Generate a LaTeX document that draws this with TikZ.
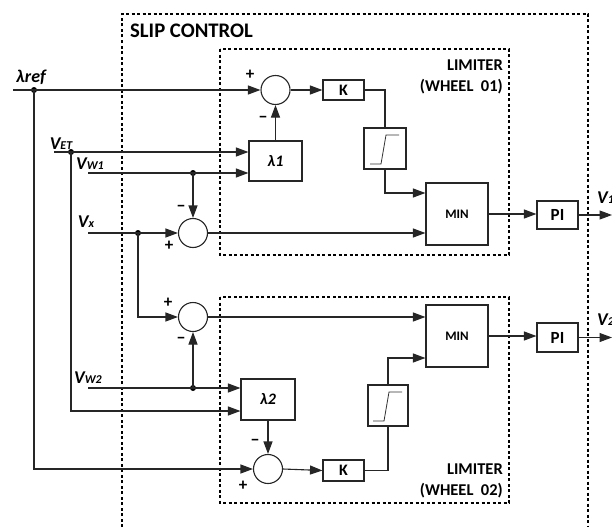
\documentclass[tikz,border=0pt]{standalone}
\usepackage{fontspec}
\setmainfont{Carlito}
\usetikzlibrary{arrows.meta,calc}
\tikzset{
  wire/.style={draw=black!85, line width=1.1pt},
  arr/.style={wire, -{Triangle[length=12.5pt,width=9pt]}},
  blk/.style={draw=black!85, line width=1.1pt, fill=white, inner sep=0pt},
  sumc/.style={circle, draw=black!85, line width=1.1pt, fill=white, minimum size=29pt, inner sep=0pt},
  dot/.style={circle, fill=black, minimum size=6pt, inner sep=0pt},
  dotbox/.style={draw=black, line width=2pt, dash pattern=on 3pt off 2.5pt},
  sgn/.style={font=\bfseries\fontsize{17}{17}\selectfont, inner sep=0pt},
  lab/.style={font=\bfseries\itshape\fontsize{18}{18}\selectfont, inner sep=0pt},
  satline/.style={draw=black!80, line width=0.8pt}
}
\newcommand{\sbs}[1]{{\fontsize{12}{12}\selectfont #1}}
\begin{document}
\begin{tikzpicture}[x=1pt,y=-1pt]
\useasboundingbox (0,0) rectangle (612,527);
% frames
\draw[dotbox] (122,527) -- (122,14) -- (588,14) -- (588,527);
\draw[dotbox] (220,49) rectangle (509,255);
\draw[dotbox] (220,297) rectangle (509,503);
\node[anchor=west, inner sep=0pt, font=\bfseries\fontsize{20.7}{21}\selectfont] (slip) at (130,31) {SLIP CONTROL};
\node[anchor=east, align=right, inner sep=0pt, font=\bfseries\fontsize{16.5}{21}\selectfont] (lim1) at (503,77) {LIMITER\\(WHEEL\ \ 01)};
\node[anchor=east, align=right, inner sep=0pt, font=\bfseries\fontsize{16.5}{21}\selectfont] (lim2) at (503,481) {LIMITER\\(WHEEL\ \ 02)};

% blocks
\node[sumc] (sum1) at (275.5,90) {};
\node[blk, minimum width=41pt, minimum height=20pt, font=\bfseries\fontsize{16}{16}\selectfont] (K1) at (343.5,90) {K};
\node[blk, minimum width=53pt, minimum height=40pt, font=\bfseries\itshape\fontsize{16}{16}\selectfont] (lam1) at (275.5,161) {λ1};
\node[blk, minimum width=42pt, minimum height=41pt] (sat1) at (385,148.5) {};
\node[blk, minimum width=62pt, minimum height=62pt, font=\bfseries\fontsize{13}{13}\selectfont] (min1) at (457,214) {MIN};
\node[blk, minimum width=41pt, minimum height=28pt, font=\bfseries\fontsize{17}{17}\selectfont] (pi1) at (557.5,215) {PI};
\node[sumc] (sum3) at (193,233) {};
\node[sumc] (sum4) at (193,317) {};
\node[blk, minimum width=62pt, minimum height=62pt, font=\bfseries\fontsize{13}{13}\selectfont] (min2) at (457,336) {MIN};
\node[blk, minimum width=41pt, minimum height=29pt, font=\bfseries\fontsize{17}{17}\selectfont] (pi2) at (557.5,337.5) {PI};
\node[blk, minimum width=40pt, minimum height=41pt] (sat2) at (388,405.5) {};
\node[blk, minimum width=41pt, minimum height=21pt, font=\bfseries\fontsize{16}{16}\selectfont] (K2) at (343.5,470.5) {K};
\node[blk, minimum width=54pt, minimum height=41pt, font=\bfseries\itshape\fontsize{16}{16}\selectfont] (lam2) at (268,399.5) {λ2};
\node[sumc] (sum5) at (268,469) {};

% saturation symbols
\draw[satline] ($(sat1)+(-15,15.5)$) -- ($(sat1)+(-4,15.5)$) -- ($(sat1)+(1,-13.5)$) -- ($(sat1)+(14,-13.5)$);
\draw[satline] ($(sat2)+(-15,15.5)$) -- ($(sat2)+(-4,15.5)$) -- ($(sat2)+(1,-13.5)$) -- ($(sat2)+(14,-13.5)$);

% inputs
\coordinate (lrs) at (13,90);
\coordinate (vets) at (54,152);
\coordinate (vw1s) at (88,173);
\coordinate (vxs) at (88,233);
\coordinate (vw2s) at (88,388);
\coordinate (out1) at (612,215);
\coordinate (out2) at (612,337.5);
\node[dot] (dref) at (34,90) {};
\node[dot] (dvet) at (71,152) {};
\node[dot] (dvw1) at (193,173) {};
\node[dot] (dvx) at (138,233) {};
\node[dot] (dvw2) at (193,388) {};

\node[lab] (tlref) at (31,77) {λref};
\node[lab] (tvet) at (61,144) {V\sbs{ET}};
\node[lab] (tvw1) at (90,164) {V\sbs{W1}};
\node[lab] (tvx) at (86,222) {V\sbs{x}};
\node[lab] (tvw2) at (88,378) {V\sbs{W2}};
\node[lab, anchor=west] (tv1) at (597,198) {V\sbs{1}};
\node[lab, anchor=west] (tv2) at (597,320) {V\sbs{2}};

% connectors
\draw[arr] (lrs) -- (sum1.west);
\draw[arr] (dref.center) |- (sum5.west);
\draw[arr] (vets) -- (vets -| lam1.west);
\draw[arr] (dvet.center) |- ([yshift=-11.5pt]lam2.west);
\draw[arr] (vw1s) -- (vw1s -| lam1.west);
\draw[arr] (dvw1.center) -- (sum3.north);
\draw[arr] (vxs) -- (sum3.west);
\draw[arr] (dvx.center) |- (sum4.west);
\draw[arr] (vw2s) -- (vw2s -| lam2.west);
\draw[arr] (dvw2.center) -- (sum4.south);
\draw[arr] (lam1.north) -- (sum1.south);
\draw[arr] (lam2.south) -- (sum5.north);
\draw[arr] (sum1.east) -- (K1.west);
\draw[arr] (sum5.east) -- (K2.west);
\draw[wire] (K1.east) -| (sat1.north);
\draw[wire] (K2.east) -| (sat2.south);
\draw[arr] (sat1.south) |- ([yshift=21pt]min1.west);
\draw[arr] (sat2.north) |- ([yshift=-22pt]min2.west);
\draw[arr] (sum3.east) -- (sum3.east -| min1.west);
\draw[arr] (sum4.east) -- (sum4.east -| min2.west);
\draw[arr] (min1.east) -- (min1.east -| pi1.west);
\draw[arr] (min2.east) -- (min2.east -| pi2.west);
\draw[arr] (pi1.east) -- (out1);
\draw[arr] (pi2.east) -- (out2);

% signs
\node[sgn] (s1p) at (250,75) {+};
\node[sgn] (s1m) at (263,119) {−};
\node[sgn] (s3m) at (181,208) {−};
\node[sgn] (s3p) at (169,246) {+};
\node[sgn] (s4p) at (168,303) {+};
\node[sgn] (s4m) at (181,340) {−};
\node[sgn] (s5m) at (255,442) {−};
\node[sgn] (s5p) at (243,486) {+};
\end{tikzpicture}
\end{document}
